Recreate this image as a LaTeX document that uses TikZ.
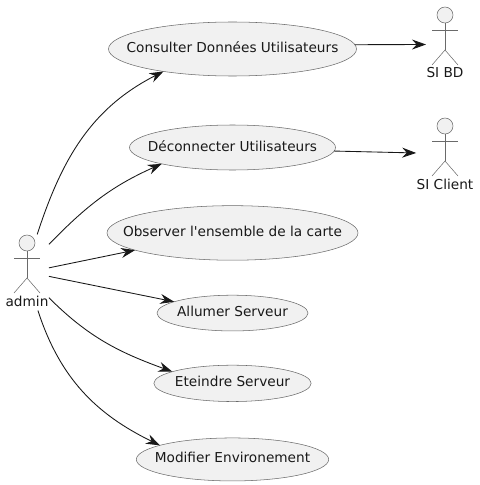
\documentclass[tikz,border=0pt]{standalone}
\usepackage{fontspec}
\newfontfamily\umlfont{DejaVu Sans}
\usetikzlibrary{positioning,fit,arrows.meta,shapes.geometric}
\definecolor{umlline}{HTML}{181818}
\definecolor{umlgray}{HTML}{6A6A6A}
\definecolor{umlfill}{HTML}{F1F1F1}
\tikzset{umltext/.style={font=\umlfont\fontsize{10.25}{12}\selectfont, text=black!90}}
\tikzset{usecase/.style n args={3}{ellipse, draw=umlgray, fill=umlfill, line width=0.4pt, inner sep=0pt, outer sep=0pt, minimum width=#1, minimum height=#2, label={[umltext, text depth=2.5pt]center:#3}}}
\tikzset{arr/.style={draw=umlline, line width=0.65pt, -{Stealth[length=10.5pt, width=7.5pt, inset=3.5pt]}}}
\tikzset{stick/.style={draw=umlgray, line width=0.4pt}}
\tikzset{actor/.pic={
		\node[circle, stick, fill=umlfill, inner sep=0pt, minimum size=12pt] (-head) at (0,0) {};
		\coordinate (-arml) at (-13,15);
		\coordinate (-armr) at (13,15);
		\coordinate (-hip) at (0,35);
		\draw[stick] (-head) -- (-hip);
		\draw[stick] (-arml) -- (-armr);
		\draw[stick] (-13,50) -- (-hip) -- (13,50);
		\node[umltext, anchor=base, inner sep=0pt, text depth=3pt] (-label) at (0,63) {#1};
		\node[fit=(-head)(-arml)(-armr)(-label), inner sep=0pt] (-box) {};
	}}
\begin{document}
\begin{tikzpicture}[x=0.75pt,y=-0.75pt]
		\useasboundingbox (0,0) rectangle (479,485);
		\node[usecase={186pt}{40.5pt}{Consulter Données Utilisateurs}] (consulter) at (232.5,49) {};
		\node[usecase={154.5pt}{33.75pt}{Déconnecter Utilisateurs}, below=36.75pt of consulter] (deconnecter) {};
		\node[usecase={188.25pt}{40.9pt}{Observer l'ensemble de la carte}, below=26.75pt of deconnecter] (observer) {};
		\node[usecase={113.25pt}{26.8pt}{Allumer Serveur}, below=26.25pt of observer] (allumer) {};
		\node[usecase={118pt}{27.25pt}{Eteindre Serveur}, below=25.7pt of allumer] (eteindre) {};
		\node[usecase={144.25pt}{32.25pt}{Modifier Environement}, below=27.3pt of eteindre] (modifier) {};
		\pic (admin) at (27,243) {actor={admin}};
		\pic (sibd) at (445,15) {actor={SI BD}};
		\pic (siclient) at (445,126) {actor={SI Client}};
		\draw[arr] (admin-box.75) to[out=72,in=207] (consulter.198);
		\draw[arr] (admin-box.52) to[out=46,in=204] (deconnecter.193);
		\draw[arr] (admin-box.12) -- (observer.190.5);
		\draw[arr] (admin-box.-10) -- (allumer.169);
		\draw[arr] (admin-box.-49) to[out=-45,in=160] (eteindre.169.4);
		\draw[arr] (admin-box.-74) to[out=-72,in=154] (modifier.169.4);
		\draw[arr] (consulter.2) -- (sibd-box.west);
		\draw[arr] (deconnecter.-2) -- (siclient-box.175);
	\end{tikzpicture}
\end{document}
